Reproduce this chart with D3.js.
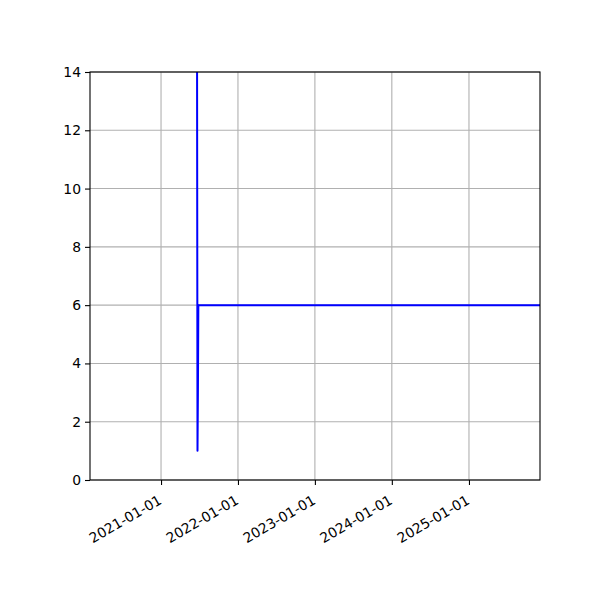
<!DOCTYPE html>
<html><head><meta charset="utf-8">
<script src="https://cdn.jsdelivr.net/npm/d3@7"></script>
<style>body{margin:0;background:#fff}svg{display:block;font-family:"DejaVu Sans",sans-serif}</style>
</head><body>
<script>
const dates = ["2021-06-21","2021-06-23","2021-06-25","2021-06-27","2025-12-04"];
const values = [14, 1, 3, 6, 6];
const xTickLabels = ["2021-01-01","2022-01-01","2023-01-01","2024-01-01","2025-01-01"];
const yTicks = [0,2,4,6,8,10,12,14];
const xDomain = ["2020-01-30","2025-12-04"];
const yDomain = [0,14];

const W=600,H=600,L=90,R=540,T=72,B=480;
const parse=d3.utcParse("%Y-%m-%d");
const svg=d3.select("body").append("svg").attr("width",W).attr("height",H);
const x=d3.scaleUtc().domain(xDomain.map(parse)).range([L,R]);
const y=d3.scaleLinear().domain(yDomain).range([B,T]);

// grid
const g=svg.append("g");
g.selectAll(".gx").data(xTickLabels).enter().append("line")
 .attr("x1",d=>x(parse(d))).attr("x2",d=>x(parse(d))).attr("y1",T).attr("y2",B)
 .attr("stroke","#b0b0b0").attr("stroke-width",1.1);
g.selectAll(".gy").data(yTicks).enter().append("line")
 .attr("x1",L).attr("x2",R).attr("y1",d=>y(d)).attr("y2",d=>y(d))
 .attr("stroke","#b0b0b0").attr("stroke-width",1.1);

// line
svg.append("clipPath").attr("id","c").append("rect").attr("x",L).attr("y",T).attr("width",R-L).attr("height",B-T);
const data=dates.map((d,i)=>({d:parse(d),v:values[i]}));
svg.append("path").datum(data).attr("clip-path","url(#c)")
 .attr("d",d3.line().x(d=>x(d.d)).y(d=>y(d.v)))
 .attr("fill","none").attr("stroke","#0000ff").attr("stroke-width",2).attr("stroke-linejoin","round");

// frame
svg.append("rect").attr("x",L).attr("y",T).attr("width",R-L).attr("height",B-T)
 .attr("fill","none").attr("stroke","#000").attr("stroke-width",1.1);

// x axis
const xa=svg.append("g").attr("transform",`translate(0,${B})`)
 .call(d3.axisBottom(x).tickValues(xTickLabels.map(parse)).tickFormat(d3.utcFormat("%Y-%m-%d")).tickSizeOuter(0).tickSize(5).tickPadding(0));
xa.select(".domain").remove();
xa.selectAll("line").attr("stroke","#000").attr("stroke-width",1.1);
xa.selectAll("text").attr("font-size",13.9).attr("fill","#000").attr("font-family","DejaVu Sans")
 .attr("text-anchor","end").attr("dy",null).attr("y",null)
 .attr("transform","translate(-4,14) rotate(-30)").attr("dominant-baseline","hanging");

// y axis
const ya=svg.append("g").attr("transform",`translate(${L},0)`)
 .call(d3.axisLeft(y).tickValues(yTicks).tickSize(5).tickSizeOuter(0).tickPadding(4));
ya.select(".domain").remove();
ya.selectAll("line").attr("stroke","#000").attr("stroke-width",1.1);
ya.selectAll("text").attr("font-size",13.9).attr("fill","#000").attr("font-family","DejaVu Sans");
</script>
</body></html>
